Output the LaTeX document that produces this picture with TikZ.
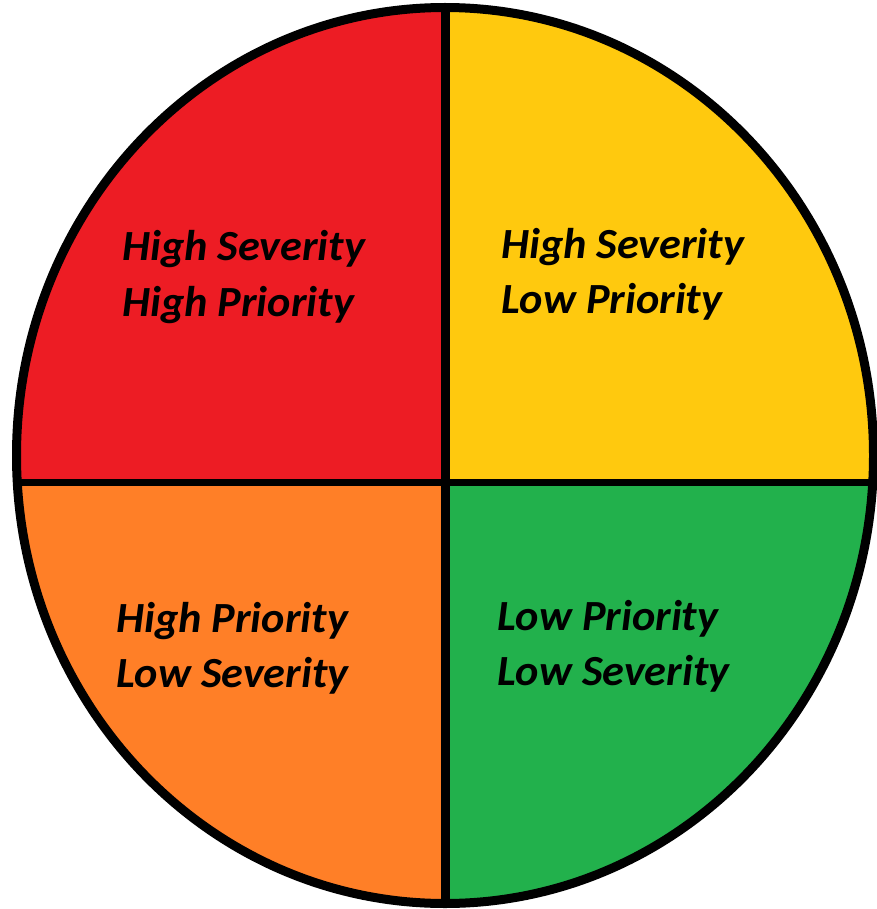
\documentclass[tikz,border=0pt]{standalone}
\usepackage{fontspec}
\setmainfont{Carlito}
\definecolor{qred}{HTML}{ED1C24}
\definecolor{qyellow}{HTML}{FFC90E}
\definecolor{qorange}{HTML}{FF7F27}
\definecolor{qgreen}{HTML}{22B14C}
\tikzset{
  lbl/.style={anchor=base west, inner sep=0pt, font=\fontsize{43}{43}\selectfont\bfseries\itshape, text=black, xscale=1.03},
}
\begin{document}
\begin{tikzpicture}[x=1pt,y=-1pt]
\useasboundingbox (0,0) rectangle (876,909);
\coordinate (c) at (445,455.5);
\begin{scope}
  \clip (c) ellipse [x radius=428.5, y radius=448];
  \fill[qred] (0,0) rectangle (445,482);
  \fill[qyellow] (445,0) rectangle (900,482);
  \fill[qorange] (0,482) rectangle (445,920);
  \fill[qgreen] (445,482) rectangle (900,920);
  \draw[line width=7pt] (0,482) -- (900,482);
  \draw[line width=9pt] (445,0) -- (445,920);
\end{scope}
\draw[line width=9pt] (c) ellipse [x radius=428.5, y radius=448];
\node[lbl] (r1) at (122,260) {High Severity};
\node[lbl] (r2) at (122,316) {High Priority};
\node[lbl] (y1) at (501,258) {High Severity};
\node[lbl] (y2) at (501,313) {Low Priority};
\node[lbl] (o1) at (116,632) {High Priority};
\node[lbl] (o2) at (116,687) {Low Severity};
\node[lbl] (g1) at (497,630) {Low Priority};
\node[lbl] (g2) at (497,685) {Low Severity};
\end{tikzpicture}
\end{document}
